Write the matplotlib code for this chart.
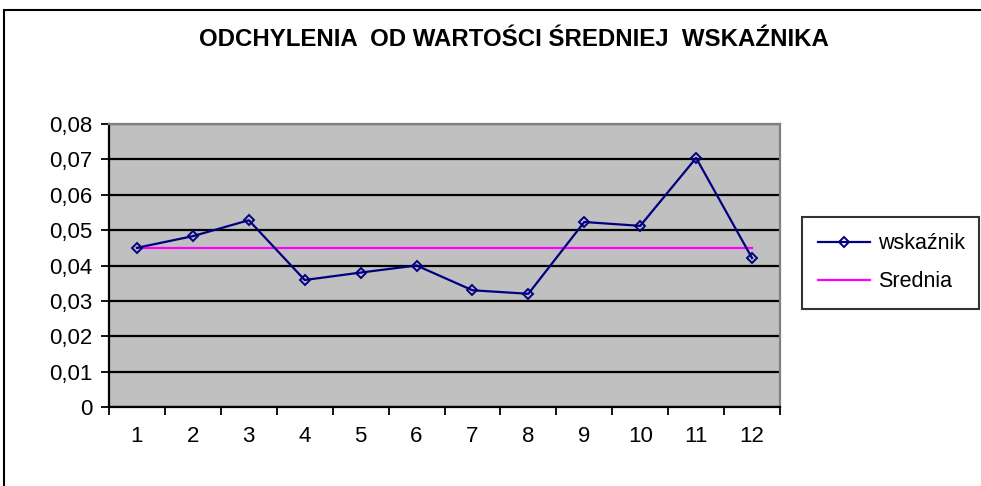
import matplotlib.pyplot as plt
from matplotlib.patches import Rectangle
import numpy as np

plt.rcParams['font.family'] = ['Liberation Sans', 'DejaVu Sans']

miesiace = [1, 2, 3, 4, 5, 6, 7, 8, 9, 10, 11, 12]
wskaznik = [0.045, 0.0483, 0.0528, 0.0359, 0.038, 0.040,
            0.033, 0.032, 0.0523, 0.0512, 0.0704, 0.0421]
srednia = [0.045] * 12
y_ticks = [0, 0.01, 0.02, 0.03, 0.04, 0.05, 0.06, 0.07, 0.08]
y_labels = ['0', '0,01', '0,02', '0,03', '0,04', '0,05', '0,06', '0,07', '0,08']

W, H = 981, 486
fig = plt.figure(figsize=(W / 100, H / 100), dpi=100)

# outer chart frame
fig.patches.append(Rectangle((4 / W, -0.1), 1.2, 1.1 - 10 / H, transform=fig.transFigure,
                             fill=False, edgecolor='black', linewidth=1.5))

ax = fig.add_axes([109 / W, (H - 407) / H, (780 - 109) / W, (407 - 124) / H])
ax.set_facecolor('#c0c0c0')

ax.plot(miesiace, wskaznik, color='#000080', linewidth=1.6, marker='D', markersize=5.5,
        markerfacecolor='none', markeredgecolor='#000080', markeredgewidth=1.4,
        label='wskaźnik', zorder=4)
ax.plot(miesiace, srednia, color='#ff00ff', linewidth=1.6, label='Srednia', zorder=3)

ax.set_xlim(0.5, 12.5)
ax.set_ylim(0, 0.08)

ax.set_yticks(y_ticks)
ax.set_yticklabels(y_labels, fontsize=16)
ax.yaxis.grid(True, color='black', linewidth=1.6)
ax.set_axisbelow(True)

# tick marks between categories, labels at centres
ax.set_xticks(np.arange(0.5, 13, 1))
ax.set_xticklabels([])
ax.set_xticks(miesiace, minor=True)
ax.set_xticklabels([str(m) for m in miesiace], minor=True, fontsize=16)
ax.tick_params(axis='x', which='major', direction='out', length=6, width=1.3, color='black')
ax.tick_params(axis='x', which='minor', length=0, pad=14)
ax.tick_params(axis='y', direction='out', length=6, width=1.3, pad=6)

for s in ['left', 'bottom']:
    ax.spines[s].set_color('black')
    ax.spines[s].set_linewidth(1.6)
for s in ['top', 'right']:
    ax.spines[s].set_color('#808080')
    ax.spines[s].set_linewidth(1.6)

fig.text(514 / W, 1 - 40 / H, 'ODCHYLENIA  OD WARTOŚCI ŚREDNIEJ  WSKAŹNIKA',
         ha='center', va='center', fontsize=17.3, fontweight='bold')

leg = fig.legend(loc='upper left', bbox_to_anchor=(802 / W, (H - 308) / H, (979 - 802) / W, 91 / H),
                 mode='expand', fontsize=15.5, frameon=True, fancybox=False, shadow=False,
                 handlelength=2.4, handletextpad=0.4, labelspacing=0.8, borderpad=0.75,
                 borderaxespad=0)
leg.get_frame().set_edgecolor('black')
leg.get_frame().set_linewidth(1.5)

fig.savefig('out.png', dpi=100)
